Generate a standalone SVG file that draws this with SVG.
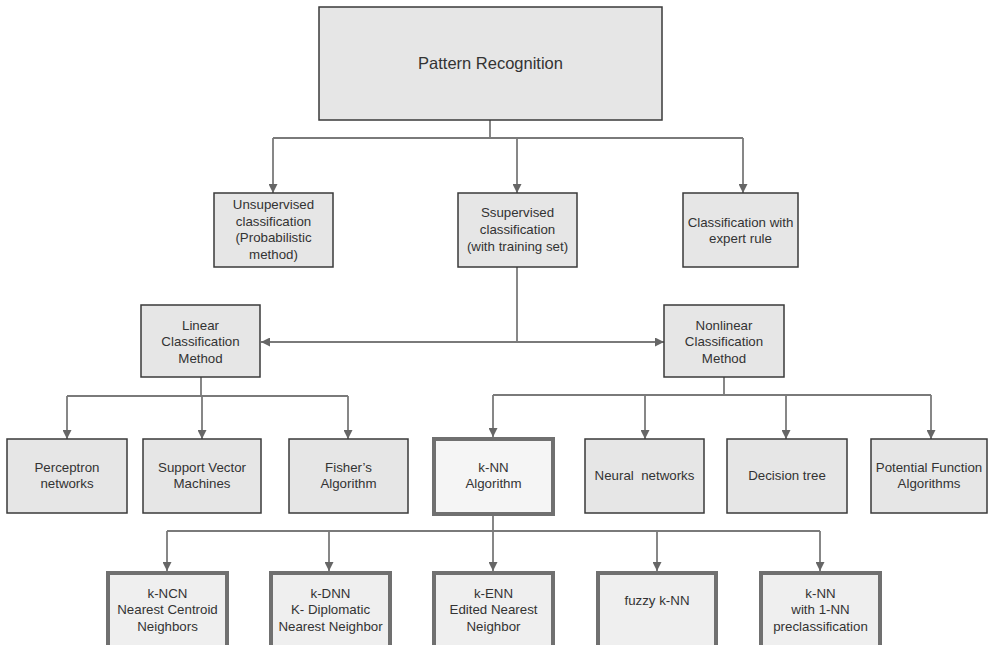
<svg xmlns="http://www.w3.org/2000/svg" width="989" height="645" viewBox="0 0 989 645">
<style>
.box{fill:#e6e6e6;stroke:#3a3a3a;stroke-width:1.5}
.thick{fill:#efefef;stroke:#707070;stroke-width:4}
.knn{fill:#f5f5f5;stroke:#707070;stroke-width:4}
.t{font-family:"Liberation Sans",Arial,sans-serif;font-size:13.3px;fill:#333;text-anchor:middle}
.big{font-size:16.5px}
.pre{white-space:pre}
.c{fill:none;stroke:#7a7a7a;stroke-width:1.8}
.a{marker-end:url(#ah)}
</style>
<defs>
<marker id="ah" viewBox="0 0 10 10" refX="10" refY="5" markerUnits="userSpaceOnUse" markerWidth="9" markerHeight="9" orient="auto">
<path d="M0,0 L10,5 L0,10 z" fill="#666"/>
</marker>
</defs>
<rect width="989" height="645" fill="#fff"/>
<g id="connectors">
<path class="c" d="M490,120 V138 M273,138 H743"/>
<path class="c a" d="M273,138 V193"/>
<path class="c a" d="M517,138 V193"/>
<path class="c a" d="M743,138 V193"/>
<path class="c" d="M517,267 V342"/>
<path class="c a" d="M517,342 H261"/>
<path class="c a" d="M517,342 H664"/>
<path class="c" d="M201,377 V396 M67,396 H348"/>
<path class="c a" d="M67,396 V439"/>
<path class="c a" d="M202,396 V439"/>
<path class="c a" d="M348,396 V439"/>
<path class="c" d="M724,377 V395 M493,395 H931"/>
<path class="c a" d="M493,395 V437"/>
<path class="c a" d="M645,395 V439"/>
<path class="c a" d="M786,395 V439"/>
<path class="c a" d="M931,395 V439"/>
<path class="c" d="M493,516 V531 M167,531 H820"/>
<path class="c a" d="M167,531 V571"/>
<path class="c a" d="M329,531 V571"/>
<path class="c a" d="M493,531 V571"/>
<path class="c a" d="M657,531 V571"/>
<path class="c a" d="M820,531 V571"/>
</g>
<g id="pattern-recognition">
<rect class="box" x="319" y="7" width="343" height="113"/>
<text class="t big" x="490.5" y="69">Pattern Recognition</text>
</g>
<g id="unsupervised">
<rect class="box" x="214" y="193" width="119" height="74"/>
<text class="t" x="273.5" y="209">Unsupervised</text>
<text class="t" x="273.5" y="225.5">classification</text>
<text class="t" x="273.5" y="242">(Probabilistic</text>
<text class="t" x="273.5" y="258.5">method)</text>
</g>
<g id="supervised">
<rect class="box" x="458" y="193" width="119" height="74"/>
<text class="t" x="517.5" y="217">Ssupervised</text>
<text class="t" x="517.5" y="233.5">classification</text>
<text class="t" x="517.5" y="250.5">(with training set)</text>
</g>
<g id="expert">
<rect class="box" x="683" y="193" width="115" height="74"/>
<text class="t" x="740.5" y="226.5">Classification with</text>
<text class="t" x="740.5" y="243">expert rule</text>
</g>
<g id="linear">
<rect class="box" x="141" y="305" width="119" height="72"/>
<text class="t" x="200.5" y="329.5">Linear</text>
<text class="t" x="200.5" y="346">Classification</text>
<text class="t" x="200.5" y="362.5">Method</text>
</g>
<g id="nonlinear">
<rect class="box" x="664" y="305" width="120" height="72"/>
<text class="t" x="724" y="329.5">Nonlinear</text>
<text class="t" x="724" y="346">Classification</text>
<text class="t" x="724" y="362.5">Method</text>
</g>
<g id="perceptron">
<rect class="box" x="7" y="439" width="120" height="74"/>
<text class="t" x="67" y="471.5">Perceptron</text>
<text class="t" x="67" y="488">networks</text>
</g>
<g id="svm">
<rect class="box" x="143" y="439" width="118" height="74"/>
<text class="t" x="202" y="471.5">Support Vector</text>
<text class="t" x="202" y="488">Machines</text>
</g>
<g id="fisher">
<rect class="box" x="289" y="439" width="119" height="74"/>
<text class="t" x="348.5" y="471.5">Fisher’s</text>
<text class="t" x="348.5" y="488">Algorithm</text>
</g>
<g id="knn">
<rect class="knn" x="434" y="439" width="119" height="75"/>
<text class="t" x="493.5" y="471.5">k-NN</text>
<text class="t" x="493.5" y="488">Algorithm</text>
</g>
<g id="neural">
<rect class="box" x="585" y="439" width="119" height="74"/>
<text class="t pre" x="644.5" y="480">Neural  networks</text>
</g>
<g id="decision">
<rect class="box" x="727" y="439" width="120" height="74"/>
<text class="t" x="787" y="480">Decision tree</text>
</g>
<g id="potential">
<rect class="box" x="871" y="439" width="116" height="74"/>
<text class="t" x="929" y="471.5">Potential Function</text>
<text class="t" x="929" y="488">Algorithms</text>
</g>
<g id="k-ncn">
<rect class="thick" x="108" y="573" width="119" height="90"/>
<text class="t" x="167.5" y="597.5">k-NCN</text>
<text class="t" x="167.5" y="614">Nearest Centroid</text>
<text class="t" x="167.5" y="630.5">Neighbors</text>
</g>
<g id="k-dnn">
<rect class="thick" x="271" y="573" width="119" height="90"/>
<text class="t" x="330.5" y="597.5">k-DNN</text>
<text class="t" x="330.5" y="614">K- Diplomatic</text>
<text class="t" x="330.5" y="630.5">Nearest Neighbor</text>
</g>
<g id="k-enn">
<rect class="thick" x="434" y="573" width="119" height="90"/>
<text class="t" x="493.5" y="597.5">k-ENN</text>
<text class="t" x="493.5" y="614">Edited Nearest</text>
<text class="t" x="493.5" y="630.5">Neighbor</text>
</g>
<g id="fuzzy-knn">
<rect class="thick" x="598" y="573" width="118" height="90"/>
<text class="t" x="657" y="604.5">fuzzy k-NN</text>
</g>
<g id="knn-1nn">
<rect class="thick" x="761" y="573" width="119" height="90"/>
<text class="t" x="820.5" y="597.5">k-NN</text>
<text class="t" x="820.5" y="614">with 1-NN</text>
<text class="t" x="820.5" y="630.5">preclassification</text>
</g>
</svg>
